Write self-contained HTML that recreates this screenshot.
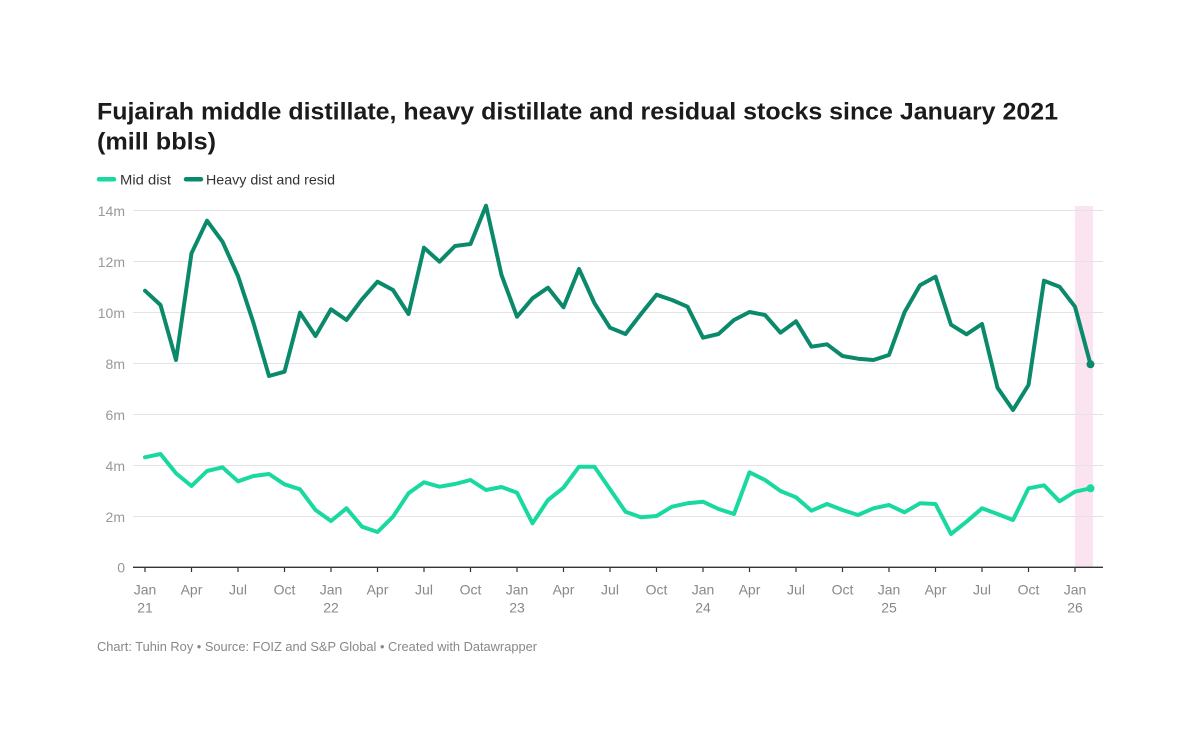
<!DOCTYPE html>
<html><head><meta charset="utf-8"><style>
html,body{margin:0;padding:0;background:#fff;}
svg{display:block;font-family:"Liberation Sans",Arial,sans-serif;}
</style></head><body>
<svg width="1200" height="752" viewBox="0 0 1200 752" xmlns="http://www.w3.org/2000/svg">
<rect width="1200" height="752" fill="#fff"/>
<text x="97" y="119.5" font-size="24" font-weight="bold" fill="#1b1b1b" textLength="961" lengthAdjust="spacingAndGlyphs">Fujairah middle distillate, heavy distillate and residual stocks since January 2021</text>
<text x="97" y="149.5" font-size="24" font-weight="bold" fill="#1b1b1b" textLength="119" lengthAdjust="spacingAndGlyphs">(mill bbls)</text>
<line x1="99" y1="179.3" x2="114" y2="179.3" stroke="#1ad9a0" stroke-width="4.5" stroke-linecap="round"/>
<text x="120" y="184.3" font-size="14" fill="#333" textLength="51" lengthAdjust="spacingAndGlyphs">Mid dist</text>
<line x1="186" y1="179.3" x2="201" y2="179.3" stroke="#0a8a6a" stroke-width="4.5" stroke-linecap="round"/>
<text x="206" y="184.3" font-size="14" fill="#333" textLength="129" lengthAdjust="spacingAndGlyphs">Heavy dist and resid</text>
<rect x="1075" y="206" width="18" height="361" fill="#fce3f0"/>
<g stroke="#e3e3e3" stroke-width="1">
<line x1="133" y1="210.5" x2="1103" y2="210.5"/>
<line x1="133" y1="261.5" x2="1103" y2="261.5"/>
<line x1="133" y1="312.5" x2="1103" y2="312.5"/>
<line x1="133" y1="363.5" x2="1103" y2="363.5"/>
<line x1="133" y1="414.5" x2="1103" y2="414.5"/>
<line x1="133" y1="465.5" x2="1103" y2="465.5"/>
<line x1="133" y1="516.5" x2="1103" y2="516.5"/>
</g>
<g font-size="14" fill="#999" text-anchor="end">
<text x="125" y="216">14m</text>
<text x="125" y="267">12m</text>
<text x="125" y="318">10m</text>
<text x="125" y="369">8m</text>
<text x="125" y="420">6m</text>
<text x="125" y="471">4m</text>
<text x="125" y="522">2m</text>
<text x="125" y="572.5">0</text>
</g>
<line x1="133" y1="567.3" x2="1103" y2="567.3" stroke="#333" stroke-width="1.4"/>
<g stroke="#333" stroke-width="1.2">
<line x1="145" y1="567" x2="145" y2="572"/>
<line x1="191.5" y1="567" x2="191.5" y2="572"/>
<line x1="238" y1="567" x2="238" y2="572"/>
<line x1="284.5" y1="567" x2="284.5" y2="572"/>
<line x1="331" y1="567" x2="331" y2="572"/>
<line x1="377.5" y1="567" x2="377.5" y2="572"/>
<line x1="424" y1="567" x2="424" y2="572"/>
<line x1="470.5" y1="567" x2="470.5" y2="572"/>
<line x1="517" y1="567" x2="517" y2="572"/>
<line x1="563.5" y1="567" x2="563.5" y2="572"/>
<line x1="610" y1="567" x2="610" y2="572"/>
<line x1="656.5" y1="567" x2="656.5" y2="572"/>
<line x1="703" y1="567" x2="703" y2="572"/>
<line x1="749.5" y1="567" x2="749.5" y2="572"/>
<line x1="796" y1="567" x2="796" y2="572"/>
<line x1="842.5" y1="567" x2="842.5" y2="572"/>
<line x1="889" y1="567" x2="889" y2="572"/>
<line x1="935.5" y1="567" x2="935.5" y2="572"/>
<line x1="982" y1="567" x2="982" y2="572"/>
<line x1="1028.5" y1="567" x2="1028.5" y2="572"/>
<line x1="1075" y1="567" x2="1075" y2="572"/>
</g>
<g font-size="14" fill="#888" text-anchor="middle">
<text x="145" y="594.5">Jan</text><text x="145" y="612.5">21</text>
<text x="191.5" y="594.5">Apr</text>
<text x="238" y="594.5">Jul</text>
<text x="284.5" y="594.5">Oct</text>
<text x="331" y="594.5">Jan</text><text x="331" y="612.5">22</text>
<text x="377.5" y="594.5">Apr</text>
<text x="424" y="594.5">Jul</text>
<text x="470.5" y="594.5">Oct</text>
<text x="517" y="594.5">Jan</text><text x="517" y="612.5">23</text>
<text x="563.5" y="594.5">Apr</text>
<text x="610" y="594.5">Jul</text>
<text x="656.5" y="594.5">Oct</text>
<text x="703" y="594.5">Jan</text><text x="703" y="612.5">24</text>
<text x="749.5" y="594.5">Apr</text>
<text x="796" y="594.5">Jul</text>
<text x="842.5" y="594.5">Oct</text>
<text x="889" y="594.5">Jan</text><text x="889" y="612.5">25</text>
<text x="935.5" y="594.5">Apr</text>
<text x="982" y="594.5">Jul</text>
<text x="1028.5" y="594.5">Oct</text>
<text x="1075" y="594.5">Jan</text><text x="1075" y="612.5">26</text>
</g>
<polyline fill="none" stroke="#0a8a6a" stroke-width="4" stroke-linejoin="round" stroke-linecap="round" points="145,290.7 160.5,305 176,360 191.5,253.3 207,220.7 222.5,241.7 238,276 253.5,323 269,376 284.5,371.7 300,312.7 315.5,336 331,309.3 346.5,320 362,299.3 377.5,281.7 393,290 408.5,314 424,247.7 439.5,261.7 455,246 470.5,244 486,205.7 501.5,275 517,316.7 532.5,298.3 548,287.7 563.5,307.3 579,269 594.5,303.3 610,327.7 625.5,334 641,314 656.5,294.7 672,300 687.5,306.7 703,337.7 718.5,334 734,320 749.5,312 765,315 780.5,332.7 796,321.3 811.5,346.7 827,344.3 842.5,356 858,358.7 873.5,360 889,355 904.5,312.3 920,285.3 935.5,276.7 951,324.7 966.5,334.3 982,324 997.5,387.7 1013,410 1028.5,385 1044,280.7 1059.5,286.7 1075,306.7 1090.5,364.3"/>
<circle cx="1090.5" cy="364.3" r="4" fill="#0a8a6a"/>
<polyline fill="none" stroke="#1ad9a0" stroke-width="4" stroke-linejoin="round" stroke-linecap="round" points="145,457.3 160.5,454 176,473.3 191.5,486 207,471 222.5,467.3 238,481.3 253.5,476 269,474 284.5,484.3 300,489.3 315.5,510 331,521 346.5,508.3 362,526.7 377.5,532 393,516.7 408.5,493.3 424,482.3 439.5,486.7 455,484 470.5,480 486,490 501.5,487 517,492.7 532.5,523.3 548,500 563.5,487.7 579,466.7 594.5,466.7 610,489.3 625.5,511.7 641,517.3 656.5,516 672,506.7 687.5,503.3 703,501.7 718.5,509 734,514 749.5,472.3 765,480 780.5,491 796,497.3 811.5,510.7 827,504 842.5,510 858,515 873.5,508.3 889,505 904.5,512.3 920,503.3 935.5,504 951,534 966.5,521.7 982,508.3 997.5,514 1013,520 1028.5,488.3 1044,485.3 1059.5,501.3 1075,491.7 1090.5,488.3"/>
<circle cx="1090.5" cy="488.3" r="4" fill="#1ad9a0"/>
<text x="97" y="651" font-size="13" fill="#888" textLength="440" lengthAdjust="spacingAndGlyphs">Chart: Tuhin Roy • Source: FOIZ and S&amp;P Global • Created with Datawrapper</text>
</svg>
</body></html>
